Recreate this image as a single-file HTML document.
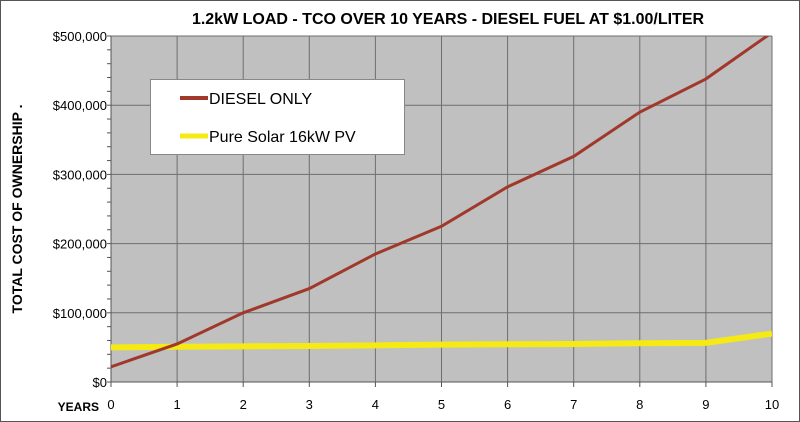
<!DOCTYPE html>
<html><head><meta charset="utf-8"><style>
body{margin:0;background:#fff}
svg{display:block;font-family:"Liberation Sans",Arial,sans-serif}
</style></head><body>
<svg width="800" height="422" viewBox="0 0 800 422">
<rect x="0.5" y="0.5" width="799" height="421" fill="#fff" stroke="#555"/>
<text x="448" y="24" text-anchor="middle" font-size="16" font-weight="bold">1.2kW LOAD - TCO OVER 10 YEARS - DIESEL FUEL AT $1.00/LITER</text>
<rect x="111" y="36" width="661" height="346" fill="#c0c0c0"/>
<g id="grid"></g>
<g id="axes"></g>
<g id="series"></g>
<text transform="translate(22,209) rotate(-90)" text-anchor="middle" font-size="14" font-weight="bold">TOTAL COST OF OWNERSHIP .</text>
<text x="99" y="411" text-anchor="end" font-size="12" font-weight="bold">YEARS</text>
<g>
<rect x="150.5" y="79.5" width="254" height="75" fill="#fff" stroke="#888"/>
<line x1="180" y1="98" x2="208" y2="98" stroke="#a0392b" stroke-width="4"/>
<text x="209" y="104" font-size="16">DIESEL ONLY</text>
<line x1="180" y1="136" x2="208" y2="136" stroke="#f5ea14" stroke-width="5"/>
<text x="209" y="142" font-size="16">Pure Solar 16kW PV</text>
</g>
</svg>
<script>
const years=[0,1,2,3,4,5,6,7,8,9,10];
const yTicks=[0,100000,200000,300000,400000,500000];
const yTickLabels=["$0","$100,000","$200,000","$300,000","$400,000","$500,000"];
const diesel=[22000,55000,100000,135000,185000,225000,282000,326000,390000,438000,505000];
const solar=[50000,51000,51500,52000,53000,54000,54500,55000,56000,56500,70000];
const X0=111,X1=772,Y0=382,Y1=36;
const xs=v=>X0+(v-0)/(10-0)*(X1-X0);
const ys=v=>Y0-(v/500000)*(Y0-Y1);
const NS="http://www.w3.org/2000/svg";
function mk(tag,attrs,parent){const e=document.createElementNS(NS,tag);for(const k in attrs)e.setAttribute(k,attrs[k]);parent.appendChild(e);return e;}
const grid=document.getElementById('grid'),axes=document.getElementById('axes'),series=document.getElementById('series');
years.forEach(v=>{const l=mk('line',{x1:xs(v),x2:xs(v),y1:Y1,y2:Y0,stroke:'#6e6e6e','stroke-width':1},grid);


const t=mk('text',{x:xs(v),y:409,'text-anchor':'middle','font-size':13},axes);t.textContent=v;


const tk=mk('line',{x1:xs(v),x2:xs(v),y1:Y0,y2:Y0+5,stroke:'#555'},axes);


});
yTicks.forEach((v,i)=>{const l=mk('line',{x1:X0,x2:X1,y1:ys(v),y2:ys(v),stroke:'#6e6e6e','stroke-width':1},grid);


const t=mk('text',{x:X0-4,y:ys(v)+5,'text-anchor':'end','font-size':13},axes);t.textContent=yTickLabels[i];


});
for(let v=0;v<=500000;v+=20000){const tk=mk('line',{x1:X0-4,x2:X0,y1:ys(v),y2:ys(v),stroke:'#555'},axes);

}
const ax=mk('line',{x1:X0,x2:X0,y1:Y1,y2:Y0,stroke:'#555'},axes);


const bx=mk('line',{x1:X0,x2:X1,y1:Y0,y2:Y0,stroke:'#555'},axes);


mk('clipPath',{id:'clip'},series).appendChild(Object.assign(document.createElementNS(NS,'rect'),{}));
series.querySelector('clipPath rect').setAttribute('x',X0);series.querySelector('clipPath rect').setAttribute('y',Y1);
series.querySelector('clipPath rect').setAttribute('width',X1-X0);series.querySelector('clipPath rect').setAttribute('height',Y0-Y1);
const ps=mk('polyline',{points:years.map((y,i)=>xs(y)+','+ys(solar[i])).join(' '),fill:'none',stroke:'#f5ea14','stroke-width':6,'clip-path':'url(#clip)'},series);


const pd=mk('polyline',{points:years.map((y,i)=>xs(y)+','+ys(diesel[i])).join(' '),fill:'none',stroke:'#a0392b','stroke-width':3,'clip-path':'url(#clip)'},series);


</script>
</body></html>
